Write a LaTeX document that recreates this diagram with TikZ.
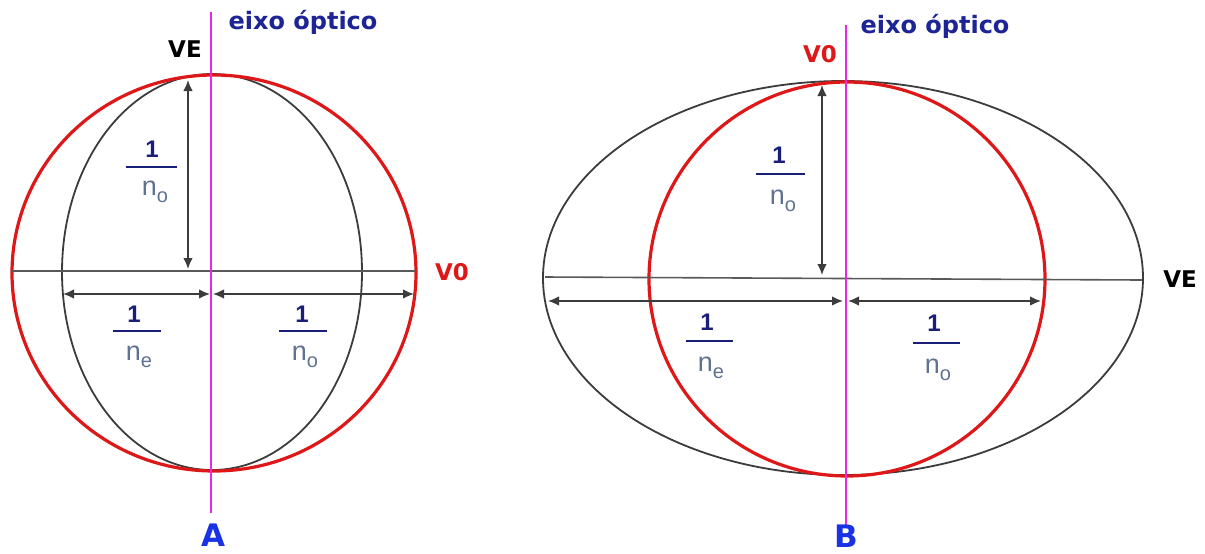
\documentclass[tikz,border=0pt]{standalone}
\usepackage{fontspec}
\setmainfont{Liberation Sans}
\newfontfamily\verd{DejaVu Sans}
\usetikzlibrary{arrows.meta}
\definecolor{redc}{RGB}{222,24,24}
\definecolor{mag}{RGB}{228,40,228}
\definecolor{elc}{RGB}{60,60,60}
\definecolor{navy}{RGB}{25,30,120}
\definecolor{slate}{RGB}{95,115,145}
\definecolor{lblue}{RGB}{28,36,150}
\definecolor{bigblue}{RGB}{25,50,230}
\newcommand{\subo}[1]{n\raisebox{-0.55ex}{\fontsize{10}{10}\selectfont #1}}
\begin{document}
\begin{tikzpicture}[x=0.5pt,y=-0.5pt,
 redcirc/.style={draw=redc,line width=1.6pt},
 blackell/.style={draw=elc,line width=0.9pt},
 opaxis/.style={draw=mag,line width=1.3pt},
 hline/.style={draw=elc!85,line width=0.8pt},
 dimarrow/.style={draw=elc,line width=0.75pt,{Latex[length=5.5pt,width=4.8pt]}-{Latex[length=5.5pt,width=4.8pt]}},
 onelab/.style={text=navy,font=\bfseries\fontsize{12}{12}\selectfont,inner sep=0,anchor=base},
 denlab/.style={text=slate,font=\fontsize{13.5}{13.5}\selectfont,inner sep=0,anchor=base},
 fbar/.style={draw=navy,line width=1.3pt},
 lab/.style={font=\verd\bfseries\fontsize{11.5}{12}\selectfont,inner sep=0},
 eixolab/.style={font=\verd\bfseries\fontsize{12}{12}\selectfont,inner sep=0,text=lblue},
 biglab/.style={font=\verd\bfseries\fontsize{15.5}{15.5}\selectfont,inner sep=0,text=bigblue,anchor=base},
 ]
\useasboundingbox (0,0) rectangle (1205,553);
\fill[white] (0,0) rectangle (1205,553);
% ---------- A ----------
\draw[blackell] (212,272) ellipse [x radius=150, y radius=198];
\draw[redcirc] (214,273) ellipse [x radius=202, y radius=198];
\coordinate (aHL) at (12,271); \coordinate (aHR) at (416,271);
\draw[hline] (aHL) -- (aHR);
\coordinate (aVT) at (188,80); \coordinate (aVB) at (188,269);
\draw[dimarrow] (aVT) -- (aVB);
\coordinate (aL1) at (63,294); \coordinate (aL2) at (210,294);
\coordinate (aR1) at (213,294); \coordinate (aR2) at (414,294);
\draw[dimarrow] (aL1) -- (aL2);
\draw[dimarrow] (aR1) -- (aR2);
\coordinate (aAxT) at (211,12); \coordinate (aAxB) at (211,513);
\draw[opaxis] (aAxT) -- (aAxB);
% fractions A
\node[onelab] (af1n) at (152,157) {1};
\draw[fbar] (126,167) -- (177,167);
\node[denlab] (af1d) at (155,195) {\subo{o}};
\node[onelab] (af2n) at (134,322) {1};
\draw[fbar] (113,331) -- (161,331);
\node[denlab] (af2d) at (139,360) {\subo{e}};
\node[onelab] (af3n) at (302,322) {1};
\draw[fbar] (279,331) -- (327,331);
\node[denlab] (af3d) at (305,360) {\subo{o}};
% labels A
\node[lab] (aVE) at (185,49) {VE};
\node[eixolab] (aEixo) at (303,22) {eixo óptico};
\node[lab,text=redc] (aV0) at (452,272) {V0};
\node[biglab] (aA) at (213,546) {A};
% ---------- B ----------
\draw[blackell] (843,278) ellipse [x radius=300, y radius=197];
\draw[redcirc] (847,279) ellipse [x radius=198, y radius=197];
\coordinate (bHL) at (545,277); \coordinate (bHR) at (1142,280);
\draw[hline] (bHL) -- (bHR);
\coordinate (bVT) at (822,85); \coordinate (bVB) at (822,275);
\draw[dimarrow] (bVT) -- (bVB);
\coordinate (bL1) at (548,301); \coordinate (bL2) at (843,301);
\coordinate (bR1) at (848,301); \coordinate (bR2) at (1041,301);
\draw[dimarrow] (bL1) -- (bL2);
\draw[dimarrow] (bR1) -- (bR2);
\coordinate (bAxT) at (846,25); \coordinate (bAxB) at (846,525);
\draw[opaxis] (bAxT) -- (bAxB);
% fractions B
\node[onelab] (bf1n) at (779,163) {1};
\draw[fbar] (756,174) -- (805,174);
\node[denlab] (bf1d) at (783,204) {\subo{o}};
\node[onelab] (bf2n) at (707,330) {1};
\draw[fbar] (686,341) -- (733,341);
\node[denlab] (bf2d) at (711,371) {\subo{e}};
\node[onelab] (bf3n) at (934,331) {1};
\draw[fbar] (913,343) -- (960,343);
\node[denlab] (bf3d) at (938,373) {\subo{o}};
% labels B
\node[lab,text=redc] (bV0) at (820,54) {V0};
\node[eixolab] (bEixo) at (935,26) {eixo óptico};
\node[lab] (bVE) at (1180,279) {VE};
\node[biglab] (bB) at (846,547) {B};
\end{tikzpicture}
\end{document}
